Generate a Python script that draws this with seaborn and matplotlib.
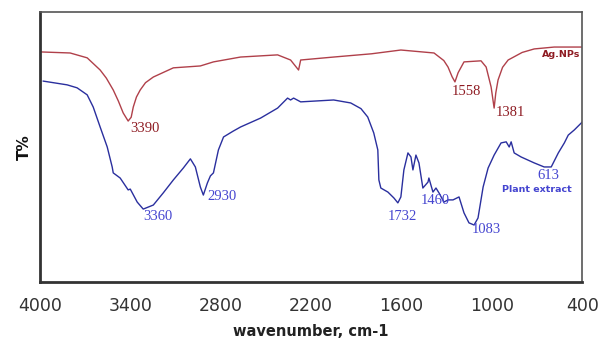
import numpy as np
import pandas as pd
import seaborn as sns
import matplotlib
matplotlib.use("Agg")
import matplotlib.pyplot as plt

# ---- data ----
ag_wn = [4000, 3800, 3687, 3601, 3560, 3514, 3480, 3448, 3415, 3395, 3381, 3360,
         3335, 3300, 3248, 3115, 2936, 2849, 2669, 2423, 2337, 2284, 2270, 2051,
         1800, 1605, 1385, 1320, 1292, 1265, 1246, 1225, 1186, 1073, 1039, 1006,
         986, 975, 960, 930, 893, 800, 720, 587, 407]
ag_t = [85.2, 84.8, 83.0, 78.5, 75.5, 71.1, 67.0, 62.6, 59.6, 61.0, 64.8, 68.5,
        71.1, 73.8, 75.9, 79.3, 80.0, 81.5, 83.3, 84.1, 82.2, 78.5, 82.2, 83.3,
        84.5, 85.9, 84.8, 82.0, 79.6, 76.0, 74.1, 77.5, 81.5, 81.9, 79.6, 72.2,
        64.4, 70.0, 74.8, 79.5, 82.2, 85.0, 86.3, 87.0, 87.0]

pe_wn = [3980, 3820, 3754, 3687, 3647, 3601, 3554, 3521, 3514, 3468, 3415, 3401,
         3355, 3315, 3248, 3182, 3115, 3049, 3002, 2969, 2936, 2916, 2889, 2869,
         2849, 2816, 2782, 2720, 2669, 2536, 2423, 2357, 2337, 2317, 2270, 2051, 1938,
         1870, 1825, 1785, 1758, 1751, 1738, 1691, 1651, 1625, 1605, 1585, 1558, 1538,
         1525, 1505, 1485, 1459, 1425, 1419, 1392, 1372, 1352, 1319, 1292, 1259,
         1219, 1186, 1153, 1119, 1093, 1059, 1026, 986, 940, 906, 886, 873, 853,
         807, 720, 654, 607, 560, 520, 494, 454, 400]
pe_t = [74.4, 73.0, 71.9, 69.3, 64.8, 57.4, 50.0, 42.6, 40.4, 38.5, 34.1, 34.4,
        29.6, 27.0, 28.5, 33.0, 37.8, 42.2, 45.6, 42.6, 35.2, 32.2, 36.7, 39.3,
        40.4, 48.9, 53.7, 55.8, 57.4, 60.7, 64.4, 68.1, 67.4, 68.1, 66.7, 67.4, 66.3,
        64.2, 61.1, 55.2, 48.9, 37.8, 34.8, 33.3, 31.1, 29.3, 31.5, 41.5, 47.8, 46.3,
        41.5, 47.0, 44.1, 34.8, 37.0, 38.5, 33.3, 34.8, 33.0, 29.6, 30.4, 30.4,
        31.5, 25.6, 21.9, 21.1, 23.7, 35.2, 42.2, 47.0, 51.5, 51.9, 50.0, 51.9, 47.8,
        46.3, 44.1, 42.6, 42.6, 47.8, 51.5, 54.4, 56.3, 59.3]

ag_labels = ["3390", "1558", "1381"]
ag_label_pos = [(3301, 57.0), (1172, 70.7), (880, 62.6)]
pe_labels = ["3360", "2930", "1732", "1460", "1083", "613"]
pe_label_pos = [(3215, 24.1), (2789, 31.5), (1592, 24.1), (1379, 30.0), (1040, 19.6), (627, 39.3)]

x_ticks = [4000, 3400, 2800, 2200, 1600, 1000, 400]

red = "#B0404A"
red_txt = "#8E1B22"
blue = "#2A2F9E"
blue_txt = "#4545D0"

df = pd.concat([
    pd.DataFrame({"wn": ag_wn, "T": ag_t, "s": "Ag.NPs"}),
    pd.DataFrame({"wn": pe_wn, "T": pe_t, "s": "Plant extract"}),
])

sns.set_style("white")
plt.rcParams["font.family"] = ["DejaVu Sans"]

fig = plt.figure(figsize=(6, 3.41), dpi=100)
ax = fig.add_axes([0.0667, 0.173, 0.904, 0.792])

sns.lineplot(data=df, x="wn", y="T", hue="s", palette={"Ag.NPs": red, "Plant extract": blue},
             sort=False, estimator=None, legend=False, linewidth=1.0, ax=ax)

ax.set_xlim(4000, 400)
ax.set_ylim(0, 100)
ax.set_xticks(x_ticks)
ax.set_xticklabels([str(t) for t in x_ticks], fontsize=12.5, color="#333333")
ax.set_yticks([])
ax.tick_params(axis="x", direction="out", length=5, width=1.5, color="#444444", pad=6)

ax.set_xlabel("wavenumber, cm-1", fontsize=10.5, fontweight="bold", color="#222222", labelpad=6)
ax.set_ylabel("T%", fontsize=11, fontweight="bold", color="#111111", labelpad=6)

for side in ["left", "bottom"]:
    ax.spines[side].set_color("#333333")
    ax.spines[side].set_linewidth(2)
for side in ["top", "right"]:
    ax.spines[side].set_color("#555555")
    ax.spines[side].set_linewidth(1.2)

serif = ["Liberation Serif", "DejaVu Serif"]
for lab, (x, y) in zip(ag_labels, ag_label_pos):
    ax.text(x, y, lab, color=red_txt, fontsize=10.5, family=serif, ha="center", va="center")
for lab, (x, y) in zip(pe_labels, pe_label_pos):
    ax.text(x, y, lab, color=blue_txt, fontsize=10.5, family=serif, ha="center", va="center")

ax.text(540, 84.4, "Ag.NPs", color=red_txt, fontsize=6.8, fontweight="bold", ha="center", va="center")
ax.text(700, 34.1, "Plant extract", color=blue_txt, fontsize=6.8, fontweight="bold", ha="center", va="center")

fig.savefig("out.png", dpi=100)
